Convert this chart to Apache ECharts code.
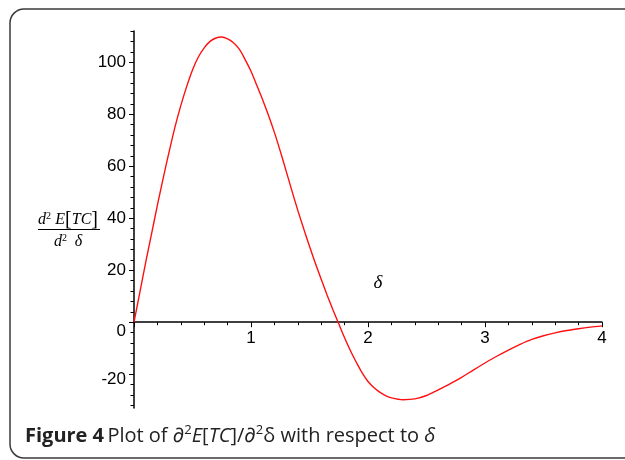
<!DOCTYPE html>
<html>
<head>
<meta charset="utf-8">
<script src="https://cdn.jsdelivr.net/npm/echarts@6/dist/echarts.min.js"></script>
<style>
html,body{margin:0;padding:0;background:#fff;}
#chart{width:625px;height:460px;}
</style>
</head>
<body>
<div id="chart"></div>
<script>
// δ values
const delta = [0, 0.05, 0.1, 0.15, 0.2, 0.25, 0.3, 0.35, 0.4, 0.45, 0.5, 0.55, 0.6, 0.65, 0.7, 0.75,
  0.8, 0.85, 0.9, 0.95, 1.0, 1.05, 1.1, 1.15, 1.2, 1.25, 1.3, 1.35, 1.4, 1.45, 1.5, 1.55, 1.6, 1.65,
  1.7, 1.75, 1.8, 1.85, 1.9, 1.95, 2.0, 2.05, 2.1, 2.15, 2.2, 2.3, 2.4, 2.5, 2.6, 2.7, 2.8, 2.9, 3.0,
  3.1, 3.2, 3.3, 3.4, 3.5, 3.6, 3.7, 3.8, 3.9, 4.0];
// d²E[TC]/d²δ values
const secondDeriv = [0, 11.5, 23, 34, 45, 55.5, 65.5, 75, 83.3, 90.6, 97, 102, 105.5, 108, 109.3, 109.7,
  109, 107.5, 105, 101, 96.5, 91, 85.5, 79.5, 73, 65.8, 58.2, 50.5, 43, 36, 29.2, 22.7, 16.5, 10.5,
  4.8, -0.6, -6, -11, -15.4, -19.5, -22.8, -25.1, -26.9, -28.2, -29.1, -29.8, -29.5, -28.2, -26, -23.7,
  -21.2, -18.4, -15.7, -13.1, -10.7, -8.5, -6.6, -5.2, -4.1, -3.2, -2.5, -1.9, -1.4];
const yMajorTicks = [-20, 0, 20, 40, 60, 80, 100];
const yMinorTicks = [-32, -28, -24, -16, -12, -8, -4, 4, 8, 12, 16, 24, 28, 32, 36, 44, 48, 52, 56,
  64, 68, 72, 76, 84, 88, 92, 96, 104, 108, 112];
const xTickLabels = [1, 2, 3, 4];
const yMin = -33, yMax = 112;

const tickFont = "'Liberation Sans', Arial, sans-serif";
const serif = "'Liberation Serif', 'Times New Roman', serif";
const capFont = "'Open Sans', 'Noto Sans', sans-serif";

const gridTop = 31, gridBottom = 52, H = 460;
const pxPerUnit = (H - gridTop - gridBottom) / (yMax - yMin);

const chart = echarts.init(document.getElementById('chart'), null, {renderer: 'canvas'});
const option = {
  animation: false,
  backgroundColor: '#fff',
  grid: [
    {left: 134, right: 23, top: gridTop, bottom: gridBottom, containLabel: false},
    // upper half-grid whose bottom edge is the line y = 0, carrying the δ axis
    {left: 134, right: 23, top: gridTop, height: yMax * pxPerUnit, containLabel: false}
  ],
  xAxis: [{
    type: 'value', gridIndex: 0, min: 0, max: 4, show: false,
    splitLine: {show: false}
  }, {
    type: 'value', gridIndex: 1, min: 0, max: 4, interval: 1, position: 'bottom',
    axisLine: {show: true, onZero: false, lineStyle: {color: '#000', width: 1.5}},
    axisTick: {show: true, length: 5, lineStyle: {color: '#000', width: 1}},
    minorTick: {show: true, splitNumber: 5, length: 3, lineStyle: {color: '#000', width: 1}},
    splitLine: {show: false}, minorSplitLine: {show: false},
    axisLabel: {
      margin: 8, color: '#000', fontSize: 17, fontFamily: tickFont,
      formatter: v => (xTickLabels.indexOf(v) >= 0 ? String(v) : '')
    }
  }],
  yAxis: [{
    type: 'value', gridIndex: 0, min: yMin, max: yMax,
    axisLine: {show: true, onZero: false, lineStyle: {color: '#000', width: 1.5}},
    axisTick: {show: true, length: 5, customValues: yMajorTicks, lineStyle: {color: '#000', width: 1}},
    splitLine: {show: false},
    axisLabel: {
      customValues: yMajorTicks, margin: 8, color: '#000', fontSize: 17, fontFamily: tickFont,
      formatter: v => (v === 0 ? '{z|0}' : (v < 0 ? '{n|' + v + '}' : String(v))),
      rich: {
        z: {fontSize: 17, fontFamily: tickFont, color: '#000', padding: [18, 0, 0, 0]},
        n: {fontSize: 17, fontFamily: tickFont, color: '#000', padding: [10, 0, 0, 0]}
      }
    }
  }, {
    type: 'value', gridIndex: 0, min: yMin, max: yMax, position: 'left', offset: 0,
    axisLine: {show: false, onZero: false},
    axisTick: {show: true, length: 3.5, customValues: yMinorTicks, lineStyle: {color: '#000', width: 1}},
    axisLabel: {show: false},
    splitLine: {show: false}
  }, {
    type: 'value', gridIndex: 1, min: 0, max: yMax, show: false,
    splitLine: {show: false}
  }],
  series: [{
    type: 'line',
    xAxisIndex: 0, yAxisIndex: 0,
    data: delta.map((d, i) => [d, secondDeriv[i]]),
    smooth: 0.3,
    showSymbol: false, symbol: 'none',
    lineStyle: {color: '#ff1010', width: 1.4},
    itemStyle: {color: '#ff1010'},
    z: 3
  }],
  graphic: [
    {
      type: 'rect', silent: true, z: -1,
      shape: {x: 10, y: 9, width: 640, height: 449, r: 14},
      style: {fill: 'none', stroke: '#3a3a3a', lineWidth: 1.5}
    },
    {
      type: 'text', left: 38, top: 210,
      style: {
        text: '{a|d}{s|2} {a|E}{b|[}{a|TC}{b|]}',
        rich: {
          a: {fontFamily: serif, fontStyle: 'italic', fontSize: 16, fill: '#000'},
          b: {fontFamily: serif, fontSize: 20, fill: '#000'},
          s: {fontFamily: serif, fontSize: 10, fill: '#000', padding: [0, 1, 8, 0]}
        }
      }
    },
    {
      type: 'line', shape: {x1: 38, y1: 229.5, x2: 100, y2: 229.5},
      style: {stroke: '#000', lineWidth: 1}
    },
    {
      type: 'text', left: 54, top: 233,
      style: {
        text: '{a|d}{s|2}  {a|δ}',
        rich: {
          a: {fontFamily: serif, fontStyle: 'italic', fontSize: 16, fill: '#000'},
          s: {fontFamily: serif, fontSize: 10, fill: '#000', padding: [0, 1, 8, 0]}
        }
      }
    },
    {
      type: 'text', x: 378, y: 283,
      style: {
        text: 'δ', fontFamily: serif, fontStyle: 'italic',
        fontSize: 19, fill: '#000', align: 'center', verticalAlign: 'middle'
      }
    },
    {
      type: 'text', left: 25, top: 424,
      style: {
        text: '{b|Figure 4} {n|Plot of ∂}{sup|2}{i|E}{n|[}{i|TC}{n|]/∂}{sup|2}{n|δ with respect to }{i|δ}',
        rich: {
          b: {fontFamily: capFont, fontWeight: 'bold', fontSize: 20, fill: '#222'},
          n: {fontFamily: capFont, fontSize: 20, fill: '#222'},
          i: {fontFamily: capFont, fontStyle: 'italic', fontSize: 20, fill: '#222'},
          sup: {fontFamily: capFont, fontSize: 13, fill: '#222', padding: [0, 0, 11, 0]}
        }
      }
    }
  ]
};
chart.setOption(option);
</script>
</body>
</html>
